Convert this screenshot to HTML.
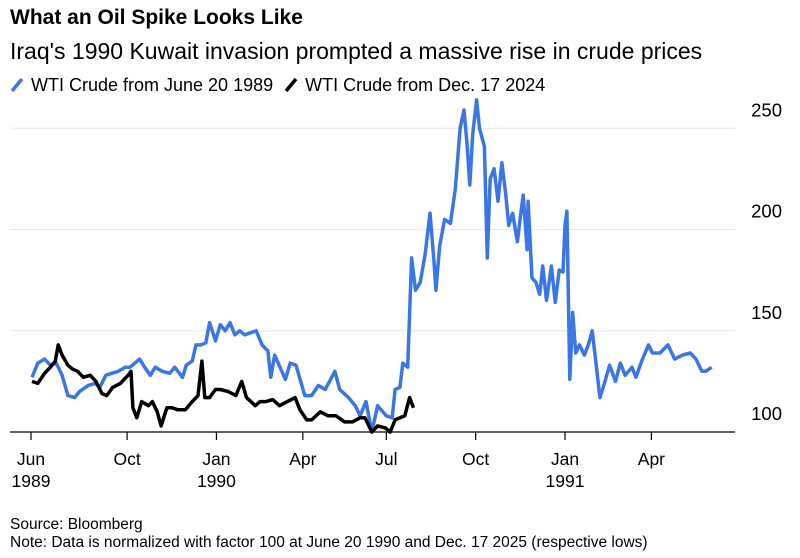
<!DOCTYPE html>
<html><head><meta charset="utf-8"><style>
body{margin:0;background:#fff;font-family:"Liberation Sans",sans-serif;color:#000}
#wrap{position:relative;width:800px;height:558px;overflow:hidden}
.t{position:absolute;white-space:nowrap}
</style></head><body>
<div id="wrap">
<div class="t" style="left:10px;top:6px;font-size:21px;font-weight:bold">What an Oil Spike Looks Like</div>
<div class="t" style="left:10px;top:38px;font-size:23px">Iraq's 1990 Kuwait invasion prompted a massive rise in crude prices</div>
<div class="t" style="left:10px;top:75px;font-size:18px">
<span><svg width="16" height="18" style="vertical-align:-2px"><line x1="2" y1="16" x2="12" y2="4" stroke="#3a76e6" stroke-width="3.5"/></svg> WTI Crude from June 20 1989</span>
<span style="margin-left:6px"><svg width="16" height="18" style="vertical-align:-2px"><line x1="2" y1="16" x2="12" y2="4" stroke="#000" stroke-width="3.5"/></svg> WTI Crude from Dec. 17 2024</span>
</div>
<svg id="chart" width="800" height="558" style="position:absolute;left:0;top:0"></svg>
<div class="t" style="left:10px;top:516px;font-size:15.5px">Source: Bloomberg</div>
<div class="t" style="left:10px;top:534px;font-size:15.5px">Note: Data is normalized with factor 100 at June 20 1990 and Dec. 17 2025 (respective lows)</div>
</div>
<script>
const yTicks=[100,150,200,250];
const xTickDays=[0,99,191,280,366,458,550,639];
const xTickLabels=["Jun","Oct","Jan","Apr","Jul","Oct","Jan","Apr"];
const xTickYears=["1989","","1990","","","","1991",""];
const blueDays=[1,7,14,20,26,32,38,45,50,59,66,71,77,83,90,97,102,107,112,117,123,128,135,143,148,156,160,166,170,175,180,184,190,195,200,205,210,215,220,226,232,238,244,247,251,262,267,273,282,289,296,303,313,318,327,334,339,345,351,357,366,372,375,380,383,388,392,396,401,406,411,415,417,421,426,432,437,442,446,449,452,455,459,462,467,470,473,477,481,485,489,492,496,501,504,507,511,512,516,520,524,527,531,536,540,544,548,550,552,555,558,561,565,570,574,578,582,586,590,596,602,607,612,619,623,629,636,640,648,656,663,671,679,685,691,695,701];
const blueVals=[127,134,136,133,134,128,118,117,120,123,124,122,128,129,130,132,132,134,136,132,128,132,130,129,132,127,133,135,143,143,144,154,145,153,150,154,148,150,148,149,150,143,140,127,138,126,134,133,118,118,123,121,130,121,117,113,108,115,100,113,108,107,121,122,134,132,186,170,174,188,208,185,170,192,205,203,220,250,259,243,222,247,264,250,241,186,225,230,214,233,217,202,208,194,206,217,190,214,176,174,168,182,165,182,164,180,179,202,209,126,159,139,143,138,143,150,134,117,123,133,125,134,128,132,127,135,143,139,139,143,136,138,139,136,130,130,132];
const blackDays=[1,7,14,20,25,28,32,38,43,48,54,61,67,73,78,84,92,100,103,105,109,114,121,125,130,134,140,145,151,159,166,172,176,179,184,190,195,203,211,217,222,231,236,242,249,256,264,272,277,284,289,298,306,314,323,331,339,344,351,357,365,370,375,380,385,390,394];
const blackVals=[125,124,129,132,135,143,138,133,131,130,127,128,125,119,118,122,124,128,130,112,107,115,113,115,110,103,112,112,111,111,115,118,135,117,117,121,121,120,118,125,117,113,115,115,116,113,115,117,111,106,106,110,108,108,105,105,107,107,100,103,102,100,106,107,108,117,112];
const NS="http://www.w3.org/2000/svg";
const svg=document.getElementById('chart');
const xS=d=>31+d/1.03;
const yS=v=>432-(v-100)*2.025;
function mk(tag,attrs){const e=document.createElementNS(NS,tag);for(const k in attrs)e.setAttribute(k,attrs[k]);svg.appendChild(e);return e;}
yTicks.forEach(v=>{
 if(v>100){const g=mk('line',{x1:10,x2:735,y1:yS(v),y2:yS(v),stroke:'#e6e6e6','stroke-width':1});
 
 }
 const t=mk('text',{x:782,y:yS(v)-12,'text-anchor':'end','font-size':18.5,'font-family':'Liberation Sans, sans-serif'});
 t.textContent=v;
 
 
});
const base=mk('line',{x1:10,x2:735,y1:432,y2:432,stroke:'#000','stroke-width':1.3});


xTickDays.forEach((d,i)=>{
 const x=xS(d);
 const tk=mk('line',{x1:x,x2:x,y1:432,y2:440,stroke:'#000','stroke-width':1.2});
 
 
 const t=mk('text',{x:x,y:465,'text-anchor':'middle','font-size':17.5,'font-family':'Liberation Sans, sans-serif'});
 t.textContent=xTickLabels[i];
 
 
 if(xTickYears[i]){const y=mk('text',{x:x,y:487,'text-anchor':'middle','font-size':17.5,'font-family':'Liberation Sans, sans-serif'});
 y.textContent=xTickYears[i];
 
 }
});
function line(days,vals,color,name){
 const p=days.map((d,i)=>xS(d).toFixed(1)+','+yS(vals[i]).toFixed(1)).join(' ');
 const l=mk('polyline',{points:p,fill:'none',stroke:color,'stroke-width':3.5,'stroke-linejoin':'round'});
 
 
}
line(blueDays,blueVals,'#3a76e6','series-1989-line');
line(blackDays,blackVals,'#000','series-2024-line');
</script>
</body></html>
